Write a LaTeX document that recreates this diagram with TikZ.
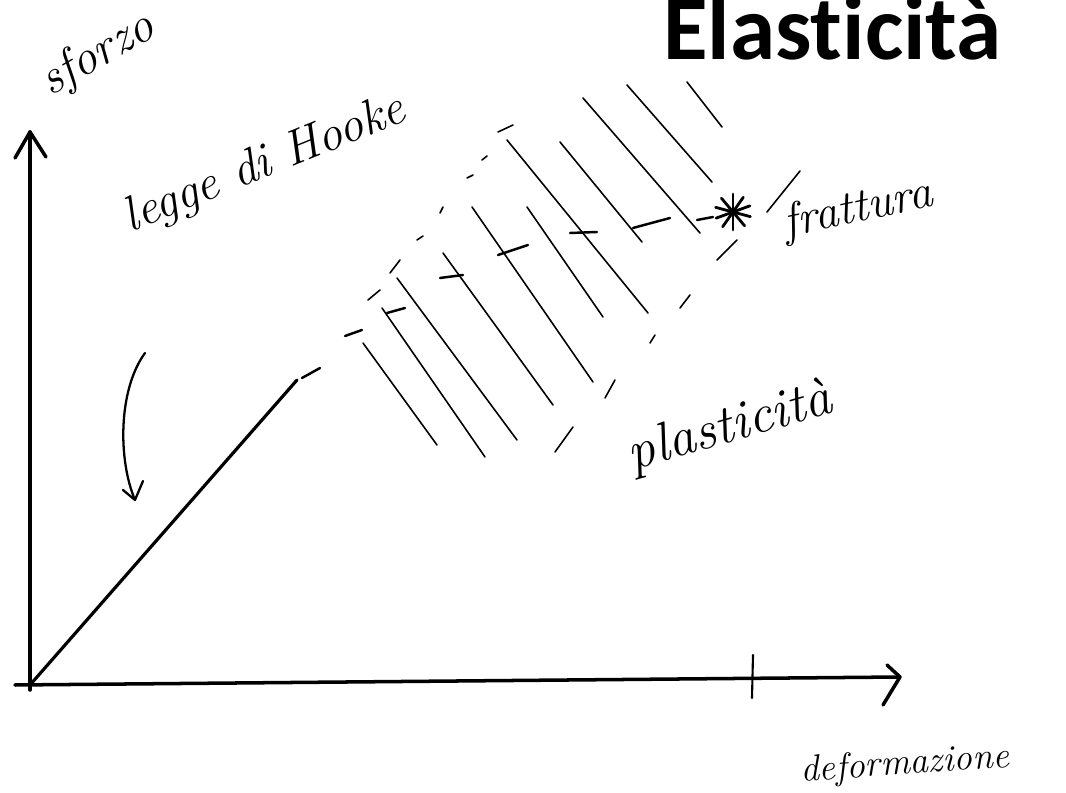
\documentclass[tikz,border=0pt]{standalone}
\usepackage{fontspec}
\usepackage{tikz}
\usetikzlibrary{arrows.meta,calc}
\newfontfamily\titlefont[Ligatures=NoCommon]{Carlito}
\definecolor{inkcolor}{RGB}{0,0,0}

\begin{document}
\begin{tikzpicture}[x=0.02cm, y=-0.02cm,
    axisline/.style={line width=2pt, line cap=round, line join=round, inkcolor},
    hatch/.style={line width=0.9pt, line cap=round, inkcolor},
    hand/.style={font=\itshape\fontsize{#1}{#1}\selectfont, text=inkcolor, inner sep=0pt}]
    \useasboundingbox (0,0) rectangle (1066,793);

    % assi
    \coordinate (O) at (30,685);
    \coordinate (yfoot) at (30,690);
    \coordinate (ytop) at (30,132);
    \coordinate (xfoot) at (15,685);
    \coordinate (xend) at (900,677);
    \draw[axisline] (yfoot) -- (ytop);
    \draw[axisline] (xfoot) -- (xend);
    \draw[axisline] (15,158) -- (ytop) -- (46,157);
    \draw[axisline] (887,665) -- (xend) -- (883,705);
    \draw[axisline, line width=1.2pt] (753,655) -- (752,698);

    % tratto elastico
    \coordinate (snerv) at (297,380);
    \draw[axisline, line width=1.8pt] (O) -- (snerv);

    % verso la frattura
    \coordinate (frac) at (733,212);
    \draw[hatch, line width=1.4pt] (302,378) -- (320,368) (345,336) -- (362,330)
        (387,313) -- (405,308) (440,278) -- (463,275) (498,255) -- (528,245)
        (570,233) -- (597,232) (633,228) -- (670,218) (697,220) -- (713,217);
    \draw[hatch] (368,300) -- (380,290) (390,273) -- (400,260) (417,240) -- (423,236)
        (440,213) -- (443,207) (467,178) -- (473,175) (482,160) -- (487,156)
        (498,132) -- (513,125);
    \draw[hatch] (555,452) -- (573,427) (605,398) -- (615,380) (650,343) -- (655,335)
        (680,308) -- (690,295) (717,260) -- (737,240) (767,212) -- (800,171);

    % zona plastica
    \draw[hatch] (363,343) -- (437,445) (382,308) -- (485,457) (397,278) -- (517,440)
        (443,253) -- (553,405) (472,207) -- (593,382) (507,140) -- (648,313)
        (527,207) -- (603,317) (560,142) -- (642,242) (583,98) -- (700,233)
        (627,85) -- (712,182) (687,82) -- (722,127);

    \foreach \a in {15,50,90,125,160}
        \draw[hatch, line width=1.6pt] ($(frac)+(\a:18)$) -- ($(frac)+(\a+180:18)$);

    % freccia
    \coordinate (arrA) at (145,353);
    \coordinate (arrB) at (135,500);
    \draw[hatch, line width=1.3pt] (arrA) .. controls (118,390) and (118,460) .. (arrB);
    \draw[hatch, line width=1.3pt, line join=round] (123,490) -- (arrB) -- (143,481);

    \node[hand=28, rotate=30] (sforzo) at (98,55) {sforzo};
    \node[hand=28, rotate=22] (hooke) at (265,165) {legge di Hooke};
    \node[hand=27, rotate=12] (frattura) at (858,210) {frattura};
    \node[hand=31, rotate=16] (plast) at (730,428) {plasticità};
    \node[hand=21, rotate=4] (deform) at (905,765) {deformazione};

    \node[font=\titlefont\bfseries\fontsize{52}{54}\selectfont, anchor=base west, inner sep=0pt] (titolo) at (663,60) {Elasticità};
\end{tikzpicture}
\end{document}
